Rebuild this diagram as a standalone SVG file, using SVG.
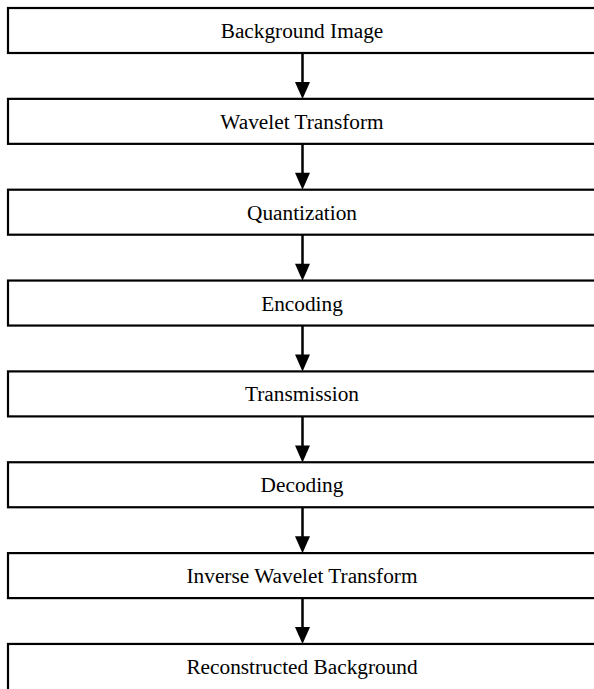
<svg xmlns="http://www.w3.org/2000/svg" width="594" height="689" viewBox="0 0 594 689">
<style>
.box{fill:#fff;stroke:#000;stroke-width:2.2}
.lbl{font-family:"Liberation Serif","Times New Roman",serif;font-size:21.3px;fill:#000;text-anchor:middle}
.ln{stroke:#000;stroke-width:2.5;fill:none}
.hd{fill:#000}
</style>
<rect width="594" height="689" fill="#fff"/>
<g id="n1"><rect class="box" x="8" y="8" width="600" height="45"/><text class="lbl" x="302" y="38">Background Image</text></g>
<g id="n2"><rect class="box" x="8" y="98.85" width="600" height="45"/><text class="lbl" x="302" y="128.85">Wavelet Transform</text></g>
<g id="n3"><rect class="box" x="8" y="189.7" width="600" height="45"/><text class="lbl" x="302" y="219.7">Quantization</text></g>
<g id="n4"><rect class="box" x="8" y="280.55" width="600" height="45"/><text class="lbl" x="302" y="310.55">Encoding</text></g>
<g id="n5"><rect class="box" x="8" y="371.4" width="600" height="45"/><text class="lbl" x="302" y="401.4">Transmission</text></g>
<g id="n6"><rect class="box" x="8" y="462.25" width="600" height="45"/><text class="lbl" x="302" y="492.25">Decoding</text></g>
<g id="n7"><rect class="box" x="8" y="553.1" width="600" height="45"/><text class="lbl" x="302" y="583.1">Inverse Wavelet Transform</text></g>
<g id="n8"><rect class="box" x="8" y="643.95" width="600" height="60"/><text class="lbl" x="302" y="673.95">Reconstructed Background</text></g>
<g id="connectors">
<g transform="translate(0,0)"><line class="ln" x1="302.5" y1="53" x2="302.5" y2="84"/><polygon class="hd" points="295,82 310,82 302.5,99"/></g>
<g transform="translate(0,90.85)"><line class="ln" x1="302.5" y1="53" x2="302.5" y2="84"/><polygon class="hd" points="295,82 310,82 302.5,99"/></g>
<g transform="translate(0,181.7)"><line class="ln" x1="302.5" y1="53" x2="302.5" y2="84"/><polygon class="hd" points="295,82 310,82 302.5,99"/></g>
<g transform="translate(0,272.55)"><line class="ln" x1="302.5" y1="53" x2="302.5" y2="84"/><polygon class="hd" points="295,82 310,82 302.5,99"/></g>
<g transform="translate(0,363.4)"><line class="ln" x1="302.5" y1="53" x2="302.5" y2="84"/><polygon class="hd" points="295,82 310,82 302.5,99"/></g>
<g transform="translate(0,454.25)"><line class="ln" x1="302.5" y1="53" x2="302.5" y2="84"/><polygon class="hd" points="295,82 310,82 302.5,99"/></g>
<g transform="translate(0,545.1)"><line class="ln" x1="302.5" y1="53" x2="302.5" y2="84"/><polygon class="hd" points="295,82 310,82 302.5,99"/></g>
</g>
</svg>
